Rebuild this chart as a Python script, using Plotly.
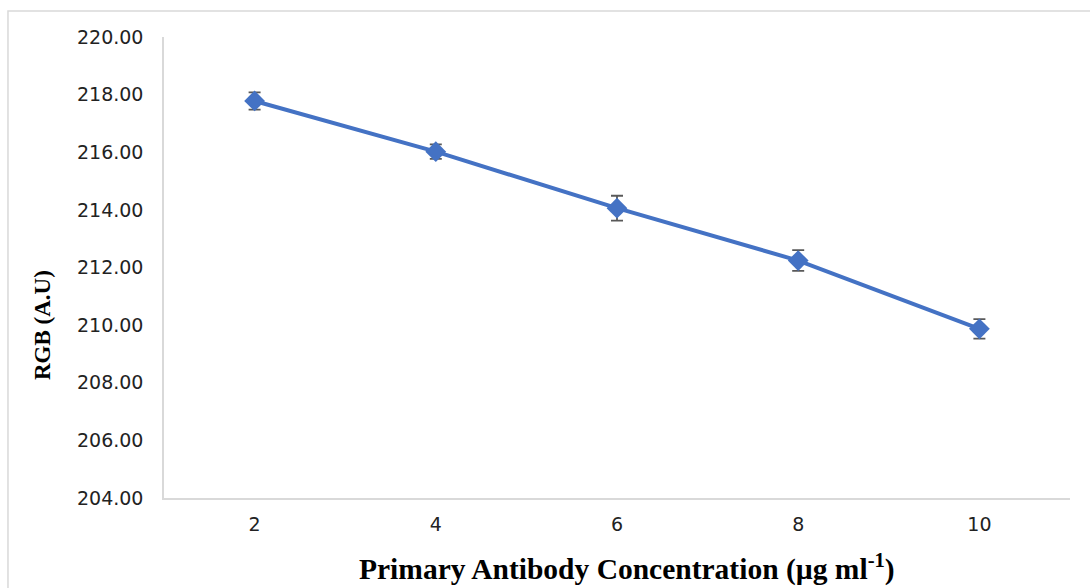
import plotly.graph_objects as go

concentrations = ["2", "4", "6", "8", "10"]
rgb_values = [217.78, 216.02, 214.06, 212.24, 209.87]
rgb_errors = [0.30, 0.25, 0.43, 0.36, 0.34]
y_ticks = [204, 206, 208, 210, 212, 214, 216, 218, 220]

fig = go.Figure()
fig.add_trace(go.Scatter(
    x=concentrations, y=rgb_values,
    mode="lines+markers",
    line=dict(color="#4472C4", width=4),
    marker=dict(symbol="diamond", size=16, color="#4472C4"),
    error_y=dict(type="data", array=rgb_errors, visible=True,
                 color="#595959", thickness=1.8, width=6),
    showlegend=False,
))

fig.update_layout(
    width=1090, height=588,
    margin=dict(l=164, r=20, t=37, b=90),
    paper_bgcolor="white", plot_bgcolor="white",
    xaxis=dict(type="category", range=[-0.5, 4.5], showgrid=False, showline=True,
               linecolor="#d9d9d9", linewidth=1.5, ticks="",
               tickfont=dict(family="DejaVu Sans", size=19, color="#222"),
               ticklabelstandoff=8, zeroline=False),
    yaxis=dict(range=[204, 220], tickvals=y_ticks, tickformat=".2f",
               showgrid=False, showline=True, linecolor="#d9d9d9",
               linewidth=1.5, ticks="", zeroline=False,
               tickfont=dict(family="DejaVu Sans", size=19, color="#222"),
               ticklabelstandoff=15),
    shapes=[dict(type="rect", xref="paper", yref="paper",
                 x0=-0.1722, x1=1.2, y0=-0.4, y1=1.0564,
                 line=dict(color="#d9d9d9", width=1.5), layer="below")],
    annotations=[
        dict(text="<b>Primary Antibody Concentration (µg ml<sup>-1</sup>)</b>",
             xref="paper", yref="paper", x=0.511, y=-0.1497,
             showarrow=False, xanchor="center", yanchor="middle",
             font=dict(family="Liberation Serif", size=29.5, color="black")),
        dict(text="<b>RGB (A.U)</b>", textangle=-90,
             xref="paper", yref="paper", x=-0.1347, y=0.375,
             showarrow=False, xanchor="center", yanchor="middle",
             font=dict(family="Liberation Serif", size=23, color="black")),
    ],
)

fig.write_html("out.html", config={"displayModeBar": False},
               post_script="document.body.style.margin='0';")
